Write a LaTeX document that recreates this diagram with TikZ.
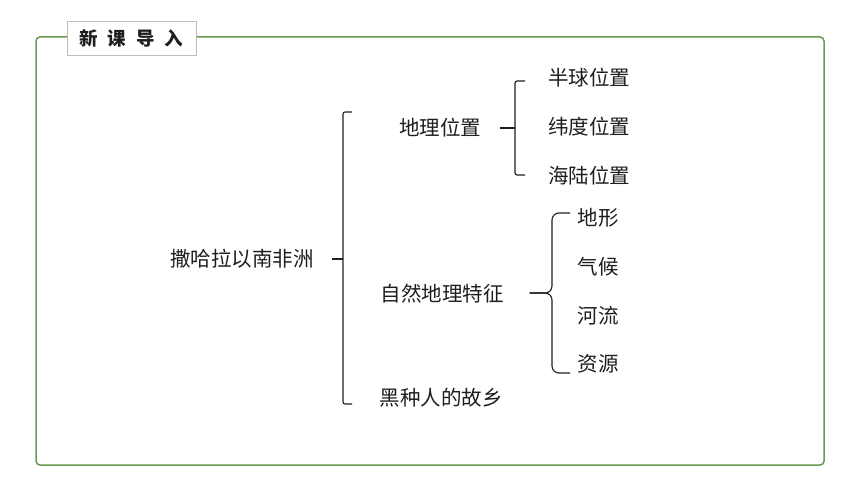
\documentclass[tikz,border=0pt]{standalone}
\usepackage{fontspec}
\setmainfont{Liberation Sans}
\newfontfamily\cjk{Noto Sans CJK SC}
\definecolor{frame}{RGB}{106,154,78}
\definecolor{ink}{RGB}{30,30,30}
\definecolor{boxgray}{RGB}{190,190,190}
\tikzset{
  lbl/.style={font=\cjk\fontsize{20.5}{20.5}\selectfont, text=ink, inner sep=0pt, anchor=center},
  brk/.style={draw=ink, line width=1.1pt, rounded corners=2pt},
  brc/.style={draw=ink, line width=1.1pt, rounded corners=7pt},
}
\begin{document}
\begin{tikzpicture}[x=1pt,y=-1pt]
\useasboundingbox (0,0) rectangle (860,484);
% frame
\draw[frame, line width=1.5pt, rounded corners=4pt] (36,37) rectangle (824,465);
% title
\node[draw=boxgray, fill=white, line width=0.8pt, minimum width=129pt, minimum height=34pt, inner sep=0pt,
      font=\cjk\bfseries\fontsize{18.5}{18.5}\selectfont, text=ink] (title) at (131.5,38) {新\hspace{10pt}课\hspace{10pt}导\hspace{10pt}入};

% nodes
\node[lbl] (root) at (242,259) {撒哈拉以南非洲};
\node[lbl] (geo) at (440,128) {地理位置};
\node[lbl] (nat) at (442,294) {自然地理特征};
\node[lbl] (home) at (441,398) {黑种人的故乡};
\node[lbl] (g1) at (589,78) {半球位置};
\node[lbl] (g2) at (589,127) {纬度位置};
\node[lbl] (g3) at (589,176) {海陆位置};
\node[lbl] (n1) at (598,218) {地形};
\node[lbl] (n2) at (598,267) {气候};
\node[lbl] (n3) at (598,316) {河流};
\node[lbl] (n4) at (598,364) {资源};

% main bracket
\coordinate (m0) at ([xshift=18pt]root.east);
\coordinate (mx) at (343,259);
\coordinate (mt) at (352,112);
\coordinate (mb) at (352,404);
\draw[brk] (m0) -- (mx);
\draw[brk] (mt) -- (343,112) -- (343,404) -- (mb);

% geo bracket
\coordinate (g0) at ([xshift=19pt]geo.east);
\coordinate (gt) at (525,81);
\coordinate (gb) at (525,175);
\draw[brk] (g0) -- (515,128);
\draw[brk] (gt) -- (515,81) -- (515,175) -- (gb);

% nat brace
\coordinate (n0) at ([xshift=26pt]nat.east);
\coordinate (nt) at (570,213);
\coordinate (nb) at (570,373);
\draw[brc] (nt) -- (552,213) -- (552,293) -- (n0|-552,293);
\draw[brc] (nb) -- (552,373) -- (552,293) -- (n0|-552,293);
\end{tikzpicture}
\end{document}
